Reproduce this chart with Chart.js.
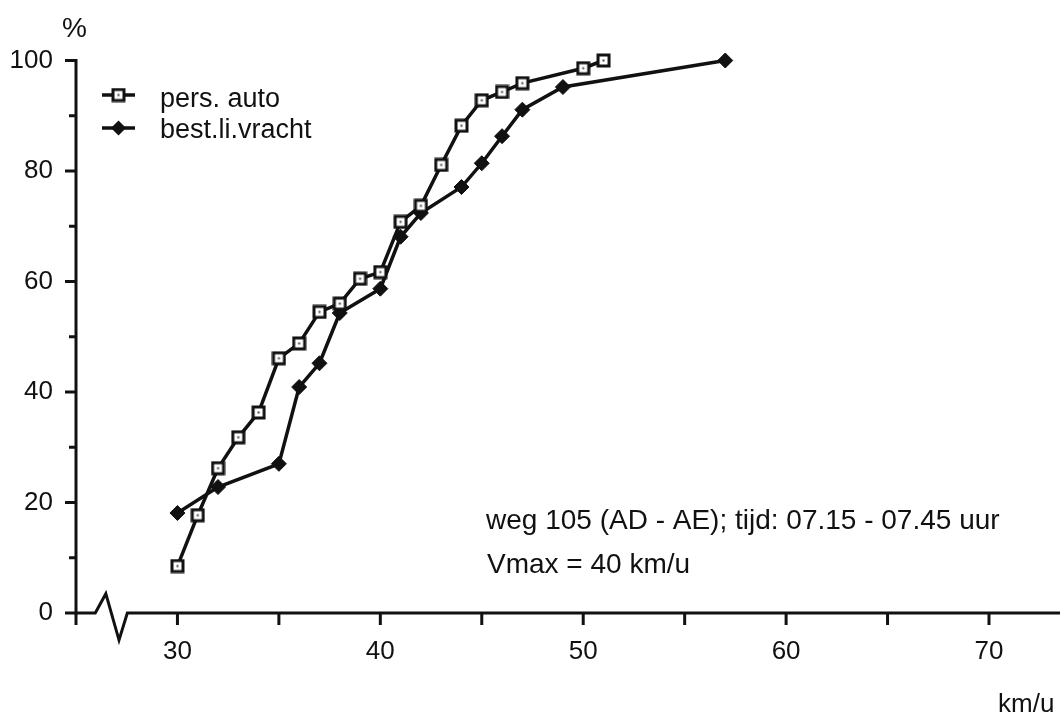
<!DOCTYPE html>
<html>
<head>
<meta charset="utf-8">
<title>Snelheidsverdeling weg 105</title>
<script src="https://cdn.jsdelivr.net/npm/chart.js@4.4.1/dist/chart.umd.min.js"></script>
<style>
    html, body { margin: 0; padding: 0; background: #fff; }
    #wrap { width: 1060px; height: 715px; }
</style>
</head>
<body>
<div id="wrap"><canvas id="speedChart" width="1060" height="715"></canvas></div>
<script>
// cumulative speed distribution
const persSpeed = [30, 31, 32, 33, 34, 35, 36, 37, 38, 39, 40, 41, 42, 43, 44, 45, 46, 47, 50, 51];
const persPct = [8.5, 17.7, 26.2, 31.8, 36.3, 46.1, 48.8, 54.5, 56.0, 60.5, 61.7, 70.8, 73.7, 81.1, 88.2, 92.8, 94.3, 95.9, 98.6, 100];
const vrachtSpeed = [30, 32, 35, 36, 37, 38, 40, 41, 42, 44, 45, 46, 47, 49, 57];
const vrachtPct = [18.1, 22.8, 27.0, 40.9, 45.2, 54.3, 58.7, 68.1, 72.4, 77.1, 81.4, 86.3, 91.1, 95.2, 100];

const seriesNames = ['pers. auto', 'best.li.vracht'];
const xTickLabels = [30, 40, 50, 60, 70];
const yTickLabels = [0, 20, 40, 60, 80, 100];
const noteLines = ['weg 105 (AD - AE); tijd: 07.15 - 07.45 uur', 'Vmax = 40 km/u'];

const ink = '#111';
const fontFamily = '"Liberation Sans", Arial, Helvetica, sans-serif';

// open square with the little dot in the middle, like the plotter symbol
function squareMarker() {
    const c = document.createElement('canvas');
    c.width = 15;
    c.height = 15;
    const g = c.getContext('2d');
    g.fillStyle = '#fff';
    g.fillRect(1, 1, 13, 13);
    g.strokeStyle = ink;
    g.lineWidth = 3;
    g.strokeRect(2, 2, 11, 11);
    g.fillStyle = '#444';
    g.fillRect(6.5, 6.5, 2, 2);
    return c;
}
const squareImg = squareMarker();

function toPoints(xs, ys) {
    return xs.map((v, i) => ({ x: v, y: ys[i] }));
}

function drawDiamond(ctx, cx, cy, r) {
    ctx.beginPath();
    ctx.moveTo(cx, cy - r);
    ctx.lineTo(cx + r, cy);
    ctx.lineTo(cx, cy + r);
    ctx.lineTo(cx - r, cy);
    ctx.closePath();
    ctx.fill();
}

// axes with the break in the x axis, plus tick marks
const axesPlugin = {
    id: 'axes',
    beforeDatasetsDraw(chart) {
        const { ctx, scales: { x, y } } = chart;
        const y0 = y.getPixelForValue(0);
        ctx.save();
        ctx.strokeStyle = ink;
        ctx.lineWidth = 3;
        ctx.lineJoin = 'miter';

        ctx.beginPath();
        ctx.moveTo(x.left, y.getPixelForValue(100) - 1.5);
        ctx.lineTo(x.left, y0 + 1.5);
        ctx.stroke();

        for (let v = 0; v <= 100; v += 10) {
            const len = v % 20 === 0 ? 11 : 7;
            const py = y.getPixelForValue(v);
            ctx.beginPath();
            ctx.moveTo(x.left - len, py);
            ctx.lineTo(x.left, py);
            ctx.stroke();
        }

        ctx.beginPath();
        ctx.moveTo(x.left, y0);
        ctx.lineTo(x.getPixelForValue(25.95), y0);
        ctx.lineTo(x.getPixelForValue(26.47), y.getPixelForValue(3.5));
        ctx.lineTo(x.getPixelForValue(27.12), y.getPixelForValue(-4.9));
        ctx.lineTo(x.getPixelForValue(27.53), y0);
        ctx.lineTo(x.right, y0);
        ctx.stroke();

        for (let v = 25; v <= 70; v += 5) {
            const px = x.getPixelForValue(v);
            ctx.beginPath();
            ctx.moveTo(px, y0);
            ctx.lineTo(px, y0 + 12);
            ctx.stroke();
        }
        ctx.restore();
    },
    afterDraw(chart) {
        const { ctx } = chart;
        ctx.save();
        ctx.fillStyle = ink;
        ctx.strokeStyle = ink;

        // legend
        const rows = [95, 128];
        rows.forEach((ry, i) => {
            ctx.lineWidth = 3.5;
            ctx.beginPath();
            ctx.moveTo(102, ry);
            ctx.lineTo(135, ry);
            ctx.stroke();
            if (i === 0) {
                ctx.drawImage(squareImg, 118.5 - squareImg.width / 2, ry - squareImg.height / 2);
            } else {
                drawDiamond(ctx, 118.5, ry, 7.5);
            }
        });
        ctx.font = '27px ' + fontFamily;
        ctx.textBaseline = 'alphabetic';
        ctx.textAlign = 'left';
        ctx.fillText(seriesNames[0], 160, 107);
        ctx.fillText(seriesNames[1], 160, 138);

        // note
        ctx.font = '28px ' + fontFamily;
        ctx.fillText(noteLines[0], 486, 529);
        ctx.fillText(noteLines[1], 487, 573);

        // axis titles
        ctx.font = '28px ' + fontFamily;
        ctx.fillText('%', 62, 37);
        ctx.font = '26px ' + fontFamily;
        ctx.fillText('km/u', 998, 712);
        ctx.restore();
    }
};

const ctx = document.getElementById('speedChart').getContext('2d');
new Chart(ctx, {
    type: 'line',
    data: {
        datasets: [
            {
                label: seriesNames[0],
                data: toPoints(persSpeed, persPct),
                borderColor: ink,
                borderWidth: 3.5,
                pointStyle: squareImg,
                pointRadius: 7,
                tension: 0,
                clip: false
            },
            {
                label: seriesNames[1],
                data: toPoints(vrachtSpeed, vrachtPct),
                borderColor: ink,
                backgroundColor: ink,
                borderWidth: 3.5,
                pointStyle: 'rectRot',
                pointRadius: 7.5,
                pointBorderWidth: 1,
                pointBackgroundColor: ink,
                pointBorderColor: ink,
                tension: 0,
                clip: false
            }
        ]
    },
    options: {
        responsive: false,
        animation: false,
        layout: { autoPadding: false, padding: { top: 60.5, left: 0, right: 0, bottom: 0 } },
        plugins: {
            legend: { display: false },
            tooltip: { enabled: false }
        },
        scales: {
            x: {
                type: 'linear',
                min: 25,
                max: 73.5,
                afterBuildTicks: scale => {
                    const t = [];
                    for (let v = 25; v <= 70; v += 5) t.push({ value: v });
                    scale.ticks = t;
                },
                afterFit: scale => {
                    scale.height = 102;
                    scale.paddingLeft = 0;
                    scale.paddingRight = 0;
                },
                grid: { display: false, drawTicks: false },
                border: { display: false },
                ticks: {
                    autoSkip: false,
                    maxRotation: 0,
                    padding: 23,
                    color: ink,
                    font: { family: fontFamily, size: 26 },
                    callback: v => xTickLabels.includes(v) ? String(v) : ''
                }
            },
            y: {
                min: 0,
                max: 100,
                afterBuildTicks: scale => {
                    const t = [];
                    for (let v = 0; v <= 100; v += 10) t.push({ value: v });
                    scale.ticks = t;
                },
                afterFit: scale => {
                    scale.width = 76;
                    scale.paddingTop = 0;
                    scale.paddingBottom = 0;
                },
                grid: { display: false, drawTicks: false },
                border: { display: false },
                ticks: {
                    autoSkip: false,
                    padding: 23,
                    color: ink,
                    font: { family: fontFamily, size: 26 },
                    callback: v => yTickLabels.includes(v) ? String(v) : ''
                }
            }
        }
    },
    plugins: [axesPlugin]
});
</script>
</body>
</html>
